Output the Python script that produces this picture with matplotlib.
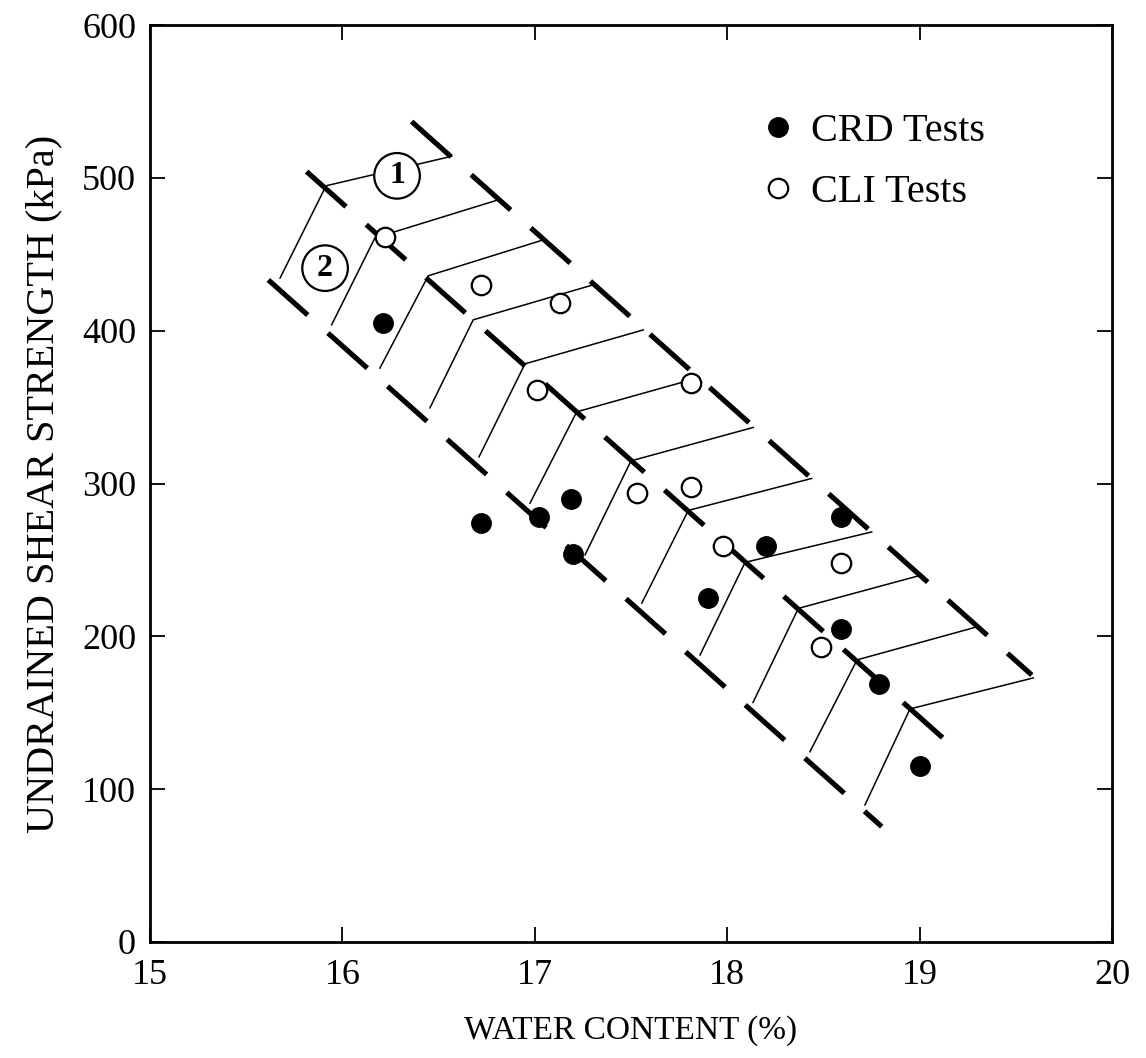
import matplotlib
matplotlib.use("Agg")
import matplotlib.pyplot as plt

plt.rcParams['font.family'] = ['Liberation Serif', 'DejaVu Serif']
plt.rcParams['lines.scale_dashes'] = False

# ---- data -------------------------------------------------------------
crd_x = [16.21, 16.72, 17.02, 17.19, 17.20, 17.90, 18.20, 18.59, 18.59, 18.79, 19.00]
crd_y = [405, 274, 278, 290, 254, 225, 259, 278, 205, 169, 115]

cli_x = [16.22, 16.72, 17.13, 17.01, 17.81, 17.53, 17.81, 17.98, 18.59, 18.49]
cli_y = [461, 430, 418, 361, 366, 294, 298, 259, 248, 193]

# three parallel dashed boundary lines (start, end)
upper_x = [16.360, 19.583]
upper_y = [536.8, 174.7]
middle_x = [15.814, 19.149]
middle_y = [504.1, 130.4]
lower_x = [15.615, 18.803]
lower_y = [433.2, 75.5]

# thin chevron guide lines: start (near lower), kink (middle), end (upper)
guide_start_x = [15.676, 15.944, 16.195, 16.455, 16.710, 16.975, 17.261, 17.556, 17.859, 18.134, 18.430, 18.716]
guide_start_y = [434.4, 403.8, 375.5, 349.5, 317.4, 287.1, 253.3, 221.7, 187.8, 156.7, 124.5, 89.7]
guide_kink_x = [15.915, 16.169, 16.446, 16.680, 16.949, 17.218, 17.500, 17.798, 18.093, 18.370, 18.675, 18.950]
guide_kink_y = [494.8, 460.7, 435.9, 407.1, 378.3, 346.9, 314.8, 282.4, 248.4, 218.3, 184.6, 152.5]
guide_end_x = [16.568, 16.810, 17.044, 17.304, 17.564, 17.848, 18.136, 18.439, 18.751, 18.992, 19.298, 19.591]
guide_end_y = [514.1, 485.6, 459.4, 430.0, 400.5, 369.1, 336.7, 303.3, 268.3, 239.5, 206.2, 172.8]

zone_labels = ['1', '2']
zone_x = [16.284, 15.910]
zone_y = [501.3, 440.9]

x_ticks = [15, 16, 17, 18, 19, 20]
y_ticks = [0, 100, 200, 300, 400, 500, 600]

# ---- figure -----------------------------------------------------------
fig = plt.figure(figsize=(11.46, 10.58), dpi=100)
ax = fig.add_axes([150/1146, 1 - 942/1058, (1112-150)/1146, (942-25)/1058])

# guide lines
for i in range(len(guide_start_x)):
    ax.plot([guide_start_x[i], guide_kink_x[i], guide_end_x[i]],
            [guide_start_y[i], guide_kink_y[i], guide_end_y[i]],
            color='black', lw=1.1, zorder=2, solid_joinstyle='miter')

# dashed boundaries
for xs, ys in [(upper_x, upper_y), (middle_x, middle_y), (lower_x, lower_y)]:
    ax.plot(xs, ys, color='black', lw=3.7, linestyle=(0, (38, 19.5)),
            dash_capstyle='butt', zorder=3)

# zone labels
for lab, zx, zy in zip(zone_labels, zone_x, zone_y):
    ax.text(zx, zy, lab, fontsize=23, fontweight='bold', ha='center', va='center',
            zorder=4,
            bbox=dict(boxstyle='circle,pad=0.26', fc='white', ec='black', lw=1.6))

# data
ax.plot(crd_x, crd_y, 'o', ms=14, mfc='black', mec='black', zorder=5,
        label='CRD Tests', linestyle='none')
ax.plot(cli_x, cli_y, 'o', ms=14, mfc='white', mec='black', mew=1.6, zorder=5,
        label='CLI Tests', linestyle='none')

ax.set_xlim(15, 20)
ax.set_ylim(0, 600)
ax.set_xticks(x_ticks)
ax.set_yticks(y_ticks)
ax.tick_params(direction='in', top=True, right=True, length=11, width=1.3)
ax.tick_params(axis='x', labelsize=26, pad=12)
ax.tick_params(axis='y', labelsize=26, pad=10)
for sp in ax.spines.values():
    sp.set_linewidth(2.0)

ax.set_xlabel('WATER CONTENT (%)', fontsize=24, labelpad=17)
ax.set_ylabel('UNDRAINED SHEAR STRENGTH (kPa)', fontsize=29, labelpad=14)

leg = ax.legend(loc='upper left', bbox_to_anchor=(0.605, 0.935), frameon=False,
                fontsize=29, handlelength=0.9, handletextpad=0.35,
                labelspacing=0.6, borderpad=0.2, numpoints=1)

fig.savefig('out.png', dpi=100)
